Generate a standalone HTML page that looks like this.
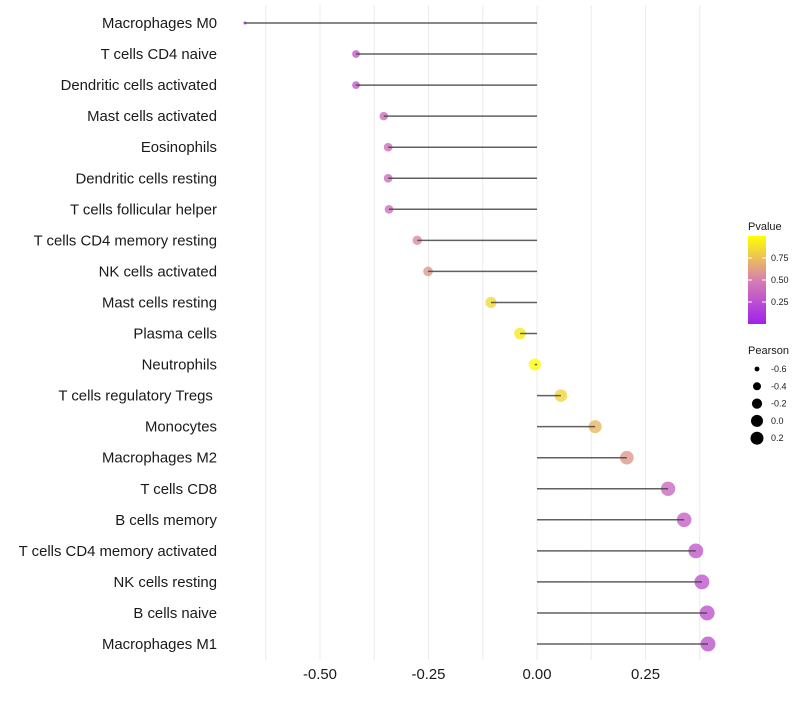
<!DOCTYPE html>
<html><head><meta charset="utf-8"><style>
body{margin:0;background:#fff;font-family:"Liberation Sans",sans-serif}
</style></head><body>
<svg id="c" width="800" height="700" xmlns="http://www.w3.org/2000/svg"></svg>
<script>
const categories=["Macrophages M0","T cells CD4 naive","Dendritic cells activated","Mast cells activated","Eosinophils","Dendritic cells resting","T cells follicular helper","T cells CD4 memory resting","NK cells activated","Mast cells resting","Plasma cells","Neutrophils","T cells regulatory  Tregs\u00a0","Monocytes","Macrophages M2","T cells CD8","B cells memory","T cells CD4 memory activated","NK cells resting","B cells naive","Macrophages M1"];
const pearson=[-0.673,-0.417,-0.417,-0.353,-0.343,-0.343,-0.341,-0.276,-0.251,-0.106,-0.039,-0.005,0.055,0.134,0.207,0.302,0.339,0.366,0.380,0.392,0.394];
const pvalues=[0.02,0.3,0.3,0.4,0.42,0.42,0.42,0.55,0.6,0.85,0.92,0.99,0.83,0.72,0.6,0.38,0.34,0.3,0.28,0.27,0.27];
const xTicks=[-0.5,-0.25,0,0.25];
const xTickLabels=["-0.50","-0.25","0.00","0.25"];
const pTicks=[0.25,0.5,0.75];
const pTickLabels=["0.25","0.50","0.75"];
const sizeTicks=[-0.6,-0.4,-0.2,0.0,0.2];
const sizeTickLabels=["-0.6","-0.4","-0.2","0.0","0.2"];

const NS="http://www.w3.org/2000/svg";
const svg=document.getElementById('c');
function X(v){return 537+v*434;}
function Y(i){return 23+i*31.05;}
function R(v){return Math.sqrt(Math.max(1.5,2.25+(v+0.673)*50.4));}
function lerp(a,b,t){return a+(b-a)*t;}
function col(p){
  const stops=[[0,[160,32,240]],[0.5,[214,128,176]],[1,[255,255,0]]];
  let i=p<=0.5?0:1;const a=stops[i],b=stops[i+1];const t=(p-a[0])/(b[0]-a[0]);
  return 'rgb('+[0,1,2].map(k=>Math.round(lerp(a[1][k],b[1][k],t))).join(',')+')';
}
function el(tag,attrs,parent){const e=document.createElementNS(NS,tag);for(const k in attrs)e.setAttribute(k,attrs[k]);(parent||svg).appendChild(e);return e;}
for(let v=-0.625;v<=0.4;v+=0.125){
  const g=el('line',{x1:X(v),x2:X(v),y1:5,y2:660,stroke:'#ebebeb','stroke-width':1});
  
  
}
xTicks.forEach((v,i)=>{
  const t=el('text',{x:X(v),y:679,'text-anchor':'middle','font-size':14.9,fill:'#1a1a1a'});
  t.textContent=xTickLabels[i];
  
  
});
categories.forEach((c,i)=>{
  const t=el('text',{x:217,y:Y(i)+5,'text-anchor':'end','font-size':14.9,fill:'#1a1a1a'});
  t.textContent=c;
  
  
  const d=el('circle',{cx:X(pearson[i]),cy:Y(i),r:R(pearson[i]),fill:col(pvalues[i]),'fill-opacity':0.8});
  
  
  const l=el('line',{x1:X(0),x2:X(pearson[i]),y1:Y(i),y2:Y(i),stroke:'#444','stroke-width':1.5,'stroke-opacity':0.85});
  
  
});
const lt=el('text',{x:748,y:230,'font-size':11,fill:'#1a1a1a'});lt.textContent='Pvalue';


const defs=el('defs',{});const gr=el('linearGradient',{id:'g',x1:0,y1:1,x2:0,y2:0},defs);
[0,0.25,0.5,0.75,1].forEach(p=>el('stop',{offset:p,'stop-color':col(p)},gr));
const bar=el('rect',{x:748,y:236,width:18,height:88,fill:'url(#g)'});


pTicks.forEach((p,i)=>{
  const y=324-p*88;
  el('line',{x1:748,x2:752,y1:y,y2:y,stroke:'#fff'});el('line',{x1:762,x2:766,y1:y,y2:y,stroke:'#fff'});
  const t=el('text',{x:771,y:y+3,'font-size':9,fill:'#1a1a1a'});t.textContent=pTickLabels[i];
  
  
});
const st=el('text',{x:748,y:354,'font-size':11,fill:'#1a1a1a'});st.textContent='Pearson';


sizeTicks.forEach((v,i)=>{
  const y=369+i*17.3;
  const c=el('circle',{cx:757,cy:y,r:Math.min(6.5,R(v)),fill:'#000'});
  
  
  const t=el('text',{x:771,y:y+3,'font-size':9,fill:'#1a1a1a'});t.textContent=sizeTickLabels[i];
  
  
});
</script>
</body></html>
